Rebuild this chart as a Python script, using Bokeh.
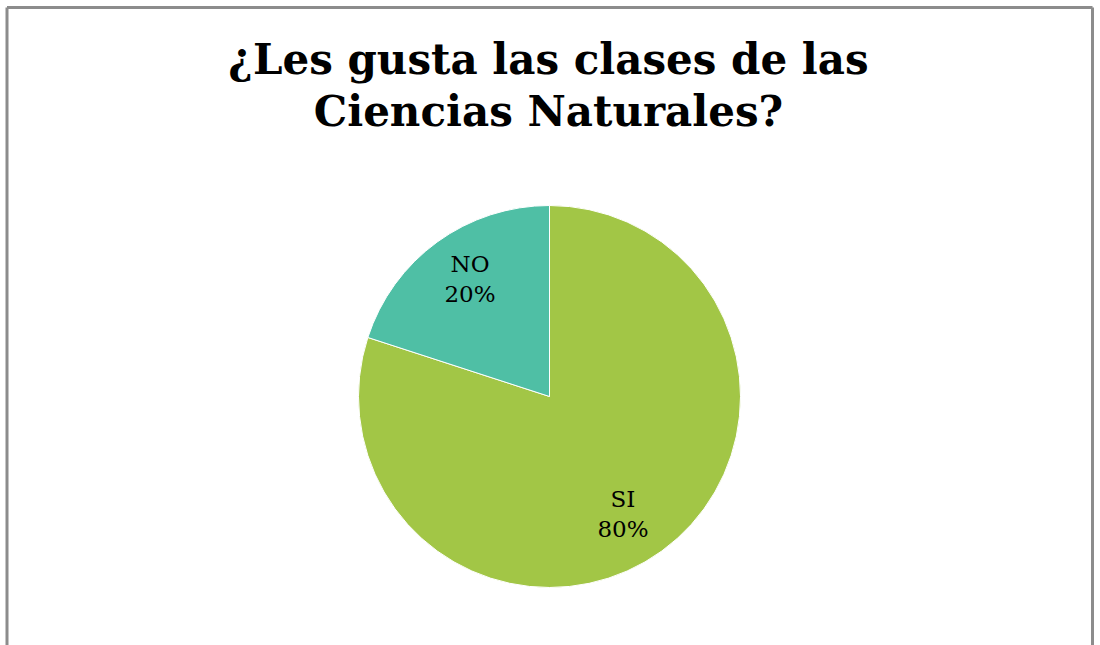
import numpy as np
from bokeh.plotting import figure
from bokeh.models import ColumnDataSource, Range1d
from bokeh.core.properties import value
from bokeh.embed import file_html
from bokeh.resources import INLINE

# ---- data ----
categories = ["SI", "NO"]
percents = [80, 20]
colors = ["#A2C646", "#4FBFA5"]
title_lines = ["¿Les gusta las clases de las", "Ciencias Naturales?"]

# ---- layout ----
W, H = 1100, 645
cx, cy, R = 549, 249, 191

p = figure(width=W, height=H, x_range=Range1d(0, W), y_range=Range1d(0, H),
           output_backend="svg", toolbar_location=None, min_border=0,
           x_axis_location=None, y_axis_location=None)
p.grid.visible = False
p.outline_line_color = None
p.background_fill_color = "white"
p.border_fill_color = "white"

# wedges: start at top, clockwise (Excel style)
vals = np.array(percents, dtype=float)
frac = vals / vals.sum()
cum = np.concatenate([[0], np.cumsum(frac)])
start = np.pi / 2 - 2 * np.pi * cum[:-1]
end = np.pi / 2 - 2 * np.pi * cum[1:]
src = ColumnDataSource(dict(cat=categories, start=start, end=end, color=colors,
                            x=[cx] * len(categories), y=[cy] * len(categories)))
p.wedge(x="x", y="y", radius=R, start_angle="start", end_angle="end",
        direction="clock", fill_color="color", line_color="white", line_width=1,
        source=src)

# labels (best-fit style, slightly rotated from mid-angle)
mid = (start + end) / 2 - np.deg2rad(3)
lr = 0.735 * R
lx = cx + lr * np.cos(mid)
ly = cy + lr * np.sin(mid)
lab = ColumnDataSource(dict(x=lx, y=ly,
                            t1=categories,
                            t2=[f"{int(v)}%" for v in percents]))
p.text(x="x", y="y", text="t1", source=lab, text_font=value("DejaVu Serif"),
       text_font_size="23px", text_align="center", text_baseline="bottom",
       x_offset=-3, y_offset=-2, text_color="black")
p.text(x="x", y="y", text="t2", source=lab, text_font=value("DejaVu Serif"),
       text_font_size="23px", text_align="center", text_baseline="top",
       x_offset=-3, y_offset=2, text_color="black")

# title
p.text(x=[W / 2 - 2] * 2, y=[H - 74 + 15, H - 126 + 15], text=title_lines,
       text_font=value("DejaVu Serif"), text_font_style="bold",
       text_font_size="42px", text_align="center", text_baseline="alphabetic",
       text_color="black")

# chart border (left, top, right)
p.segment(x0=[6.5, 6.5, 1092], y0=[0, H - 7, 0],
          x1=[6.5, 1092, 1092], y1=[H - 7, H - 7, H - 7],
          line_color="#8C8C8C", line_width=3)

open("out.html", "w").write(file_html(p, INLINE))
